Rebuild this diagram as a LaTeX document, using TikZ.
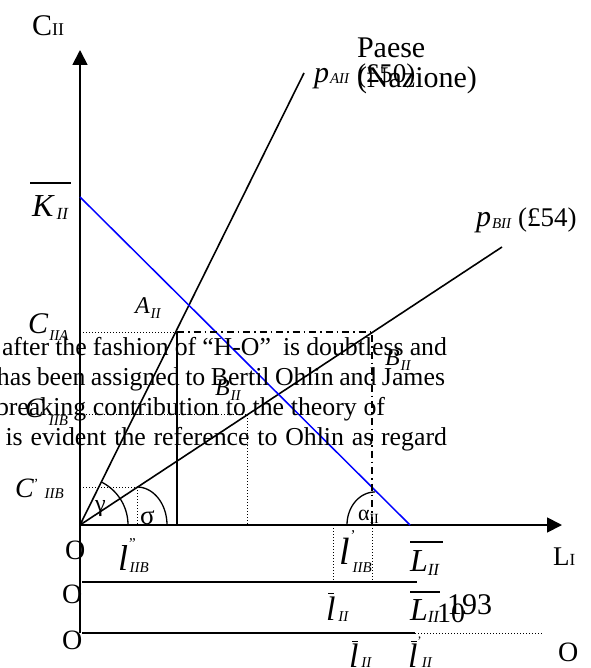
\documentclass[tikz,border=0pt]{standalone}
\usepackage{fontspec}
\setmainfont{Liberation Serif}
\usetikzlibrary{arrows.meta}
\newcommand\fs[1]{\fontsize{#1}{#1}\selectfont}
\newcommand\sub[2]{\raisebox{-#1pt}{\fs{15}\textit{#2}}}
\newcommand\subb[2]{\raisebox{-#1pt}{\fs{17}\textit{#2}}}
\begin{document}
\begin{tikzpicture}[x=1pt,y=-1pt,
  lbl/.style={anchor=base west,inner sep=0pt,outer sep=0pt},
  thick line/.style={line width=1.6pt},
  axisline/.style={line width=1.8pt,-{Triangle[length=15pt,width=15pt]}},
  dotline/.style={line width=0.9pt,dash pattern=on 1pt off 2pt},
  dashdotline/.style={line width=1.4pt,dash pattern=on 7pt off 4pt on 1.5pt off 4pt},
  bodytext/.style={anchor=base west,inner sep=0pt,outer sep=0pt,font=\fs{25.8}}]
\useasboundingbox (0,0) rectangle (590,668);
\clip (0,0) rectangle (590,668);
% key points
\coordinate (O) at (80,525);
\coordinate (ytop) at (80,50);
\coordinate (ybot) at (80,633);
\coordinate (xend) at (562,525);
\coordinate (pa) at (304,73);
\coordinate (pb) at (502,247);
\coordinate (kb) at (80,197);
\coordinate (lb) at (410,525);
\coordinate (cia) at (80,332);
\coordinate (Pv) at (177,332);
\coordinate (Pvb) at (177,525);
\coordinate (Bp) at (372,332);
\coordinate (Bpb) at (372,525);
\coordinate (cib) at (80,414);
\coordinate (Bq) at (247,414);
\coordinate (Bqb) at (247,525);
\coordinate (cpb) at (80,487);
\coordinate (Cq) at (137,487);
\coordinate (Cqb) at (137,525);
\coordinate (l1s) at (82,582);
\coordinate (l1e) at (417,582);
\coordinate (l2s) at (82,633);
\coordinate (l2e) at (415,633);
\coordinate (l2d) at (542,633);
\coordinate (d1t) at (333,525);
\coordinate (d1b) at (333,582);
\coordinate (d2b) at (372,582);
% axes
\draw[axisline] (ybot) -- (ytop);
\draw[axisline] (O) -- (xend);
% rays and budget line
\draw[thick line] (O) -- (pa);
\draw[thick line] (O) -- (pb);
\draw[line width=1.5pt,blue] (kb) -- (lb);
% guide lines
\draw[dotline] (cia) -- (Pv);
\draw[dashdotline] (Pv) -- (Bp) -- (Bpb);
\draw[thick line] (Pv) -- (Pvb);
\draw[dotline] (cib) -- (Bq) -- (Bqb);
\draw[dotline] (cpb) -- (Cq) -- (Cqb);
\draw[dotline] (d1t) -- (d1b);
\draw[dotline] (Bpb) -- (d2b);
% lower bands
\draw[thick line] (l1s) -- (l1e);
\draw[thick line] (l2s) -- (l2e);
\draw[dotline] (l2e) -- (l2d);
% angle arcs
\draw[line width=1.3pt] plot[domain=0:63.6,samples=30] ({80+48*cos(\x)},{525-48*sin(\x)});
\draw[line width=1.3pt] plot[domain=0:90,samples=30] ({137+30*cos(\x)},{525-38*sin(\x)});
\draw[line width=1.3pt] plot[domain=90:180,samples=30] ({375+28*cos(\x)},{525-33*sin(\x)});
% overlines
\draw[line width=1.2pt] (30,183) -- (71,183);
\draw[line width=1.2pt] (410,542) -- (443,542);
\draw[line width=1.2pt] (410,592) -- (440,592);
\draw[line width=1pt] (328,593) -- (334,593);
\draw[line width=1pt] (352,641) -- (358,641);
\draw[line width=1pt] (411,641) -- (417,641);
% overlapping paragraph text
\node[bodytext] (t1) at (2,355) {\makebox[445pt][s]{after the fashion of “H-O”\ \ is doubtless and}};
\node[bodytext] (t2) at (-3,385) {\makebox[448pt][s]{has been assigned to Bertil Ohlin and James}};
\node[bodytext] (t3) at (-4,415) {\makebox[389pt][s]{breaking contribution to the theory of}};
\node[bodytext] (t4) at (-18,445) {\makebox[465pt][s]{It is evident the reference to Ohlin as regard}};
% labels
\node[lbl] (cii) at (32,36) {\fs{30}C\fs{18}II};
\node[lbl] (kii) at (32,216) {\fs{32}\textit{K}\hspace{2pt}\subb{3}{II}};
\node[lbl] (paese) at (357,58) {\fs{30}Paese};
\node[lbl] (naz) at (357,88) {\fs{30}(Nazione)};
\node[lbl] (pai) at (314,83) {\fs{30}\textit{p}\hspace{1pt}\sub{1}{AII}};
\node[lbl] (p50) at (357,83) {\fs{27}(£50)};
\node[lbl] (pbi) at (476,226) {\fs{30}\textit{p}\hspace{1pt}\sub{2}{BII}};
\node[lbl] (p54) at (518,226) {\fs{27}(£54)};
\node[lbl] (aii) at (135,313) {\fs{24}\textit{A}\hspace{1pt}\sub{5}{II}};
\node[lbl] (ciia) at (28,333) {\fs{30}\textit{C}\hspace{1pt}\sub{7}{IIA}};
\node[lbl] (bpii) at (385,365) {\fs{24}\textit{B}\hspace{1pt}\sub{5}{II}};
\node[lbl] (bqii) at (215,395) {\fs{24}\textit{B}\hspace{1pt}\sub{5}{II}};
\node[lbl] (ciib) at (25,417) {\fs{28}\textit{C}\hspace{5pt}\sub{8}{IIB}};
\node[lbl] (cpiib) at (15,497) {\fs{28}\textit{C}\raisebox{9pt}{\fs{14}'}\hspace{6pt}\sub{1}{IIB}};
\node[lbl] (gam) at (95,511) {\fs{24}γ};
\node[lbl] (sig) at (140,524) {\fs{27}σ};
\node[lbl] (alp) at (358,520) {\fs{22}α\raisebox{-3pt}{\fs{14}II}};
\node[lbl] (o1) at (65,559) {\fs{28}O};
\node[lbl] (o2) at (62,603) {\fs{28}O};
\node[lbl] (o3) at (62,649) {\fs{28}O};
\node[lbl] (lqq) at (118,570) {\fs{36}\textit{l}\hspace{1pt}\raisebox{22pt}{\fs{15}"}\hspace{-6pt}\sub{2}{IIB}};
\node[lbl] (lq) at (339,564) {\fs{38}\textit{l}\hspace{1pt}\raisebox{24pt}{\fs{15}'}\hspace{-3pt}\sub{8}{IIB}};
\node[lbl] (lbar1) at (410,571) {\fs{32}\textit{L}\hspace{0pt}\subb{4}{II}};
\node[lbl] (li) at (553,565) {\fs{27}L\fs{17}I};
\node[lbl] (lb2) at (326,620) {\fs{34}\textit{l}\hspace{3pt}\sub{1}{II}};
\node[lbl] (lbar2) at (410,620) {\fs{32}\textit{L}\hspace{0pt}\subb{2}{II}};
\node[lbl] (ten) at (437,622) {\fs{28}10};
\node[lbl] (num) at (447,614) {\fs{30}193};
\node[lbl] (lb3) at (349,667) {\fs{34}\textit{l}\hspace{3pt}\sub{0}{II}};
\node[lbl] (lb4) at (408,667) {\fs{34}\textit{l}\raisebox{22pt}{\fs{13}'}\hspace{0pt}\sub{0}{II}};
\node[lbl] (o4) at (558,661) {\fs{28}O};
\end{tikzpicture}
\end{document}
